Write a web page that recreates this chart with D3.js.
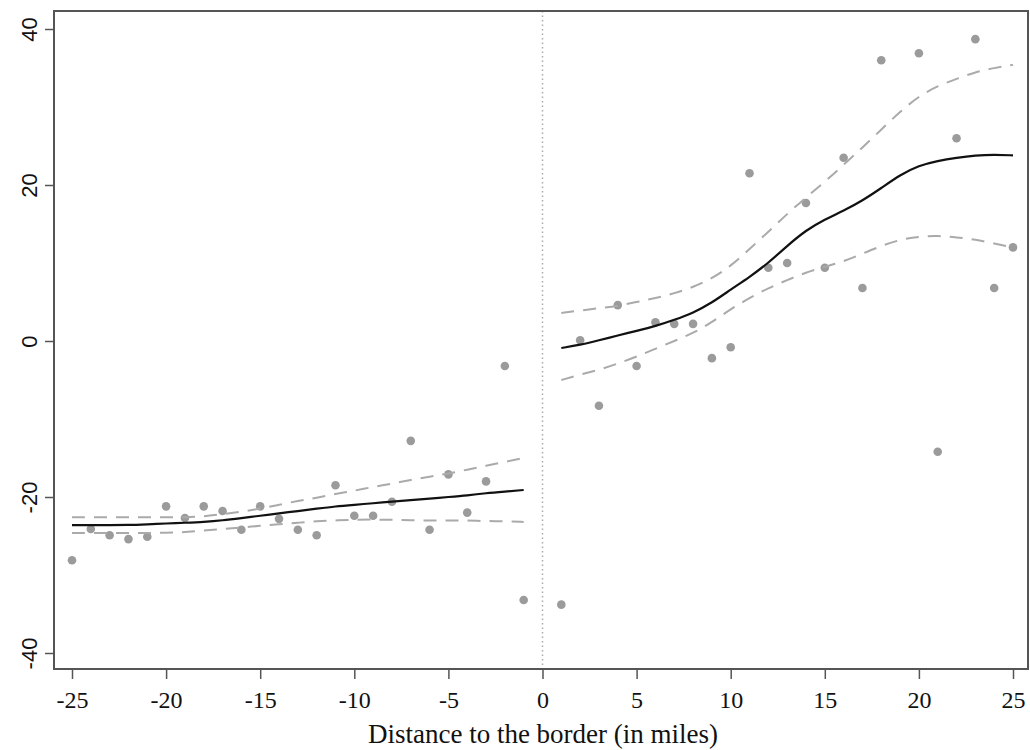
<!DOCTYPE html>
<html>
<head>
<meta charset="utf-8">
<script src="https://cdn.jsdelivr.net/npm/d3@7"></script>
<style>
  body { margin: 0; background: #fff; }
</style>
</head>
<body>
<div id="chart"><svg></svg></div>
<script>
// distance to the border (miles), left and right of the cutoff
const leftX = [-25,-24,-23,-22,-21,-20,-19,-18,-17,-16,-15,-14,-13,-12,-11,-10,-9,-8,-7,-6,-5,-4,-3,-2,-1];
const leftPts = [-28.1,-24.1,-24.9,-25.4,-25.1,-21.2,-22.7,-21.2,-21.8,-24.2,-21.2,-22.8,-24.2,-24.9,-18.5,-22.4,-22.4,-20.6,-12.8,-24.2,-17.1,-22.0,-18.0,-3.2,-33.2];
const leftFit = [-23.6,-23.6,-23.6,-23.6,-23.5,-23.4,-23.3,-23.2,-23.0,-22.7,-22.4,-22.1,-21.8,-21.5,-21.2,-21.0,-20.8,-20.6,-20.4,-20.2,-20.0,-19.8,-19.5,-19.3,-19.1];
const leftHi = [-22.6,-22.6,-22.6,-22.6,-22.6,-22.6,-22.6,-22.5,-22.2,-21.9,-21.5,-21.0,-20.5,-20.1,-19.6,-19.2,-18.7,-18.3,-17.8,-17.4,-17.0,-16.5,-16.0,-15.5,-15.0];
const leftLo = [-24.6,-24.6,-24.6,-24.6,-24.6,-24.6,-24.5,-24.3,-24.1,-23.9,-23.7,-23.5,-23.3,-23.1,-23.0,-22.9,-22.9,-22.9,-23.0,-23.0,-23.0,-23.0,-23.1,-23.1,-23.2];

const rightX = [1,2,3,4,5,6,7,8,9,10,11,12,13,14,15,16,17,18,19,20,21,22,23,24,25];
const rightFit = [-0.9,-0.5,0.1,0.7,1.3,1.9,2.7,3.6,4.9,6.6,8.2,10.0,12.2,14.2,15.6,16.7,18.0,19.6,21.3,22.5,23.1,23.5,23.8,23.9,23.8];
const rightHi = [3.6,3.9,4.2,4.5,5.0,5.5,6.1,6.9,8.0,9.6,11.8,14.0,16.3,18.4,20.4,22.6,24.8,27.1,29.4,31.4,32.7,33.6,34.5,35.0,35.4];
const rightLo = [-5.0,-4.3,-3.7,-2.9,-2.0,-1.0,0.0,1.0,2.4,4.1,5.5,6.8,7.8,8.8,9.5,10.2,11.2,12.2,13.0,13.4,13.5,13.3,13.0,12.5,12.0];

// binned means on the right (no bin shown at 19)
const rightPtX = [1,2,3,4,5,6,7,8,9,10,11,12,13,14,15,16,17,18,20,21,22,23,24,25];
const rightPts = [-33.8,0.1,-8.3,4.6,-3.2,2.4,2.2,2.2,-2.2,-0.8,21.5,9.4,10.0,17.7,9.4,23.5,6.8,36.0,36.9,-14.2,26.0,38.7,6.8,12.0];

const xTicks = [-25,-20,-15,-10,-5,0,5,10,15,20,25];
const yTicks = [-40,-20,0,20,40];
const xLabel = "Distance to the border (in miles)";

const W = 1030, H = 750;
const frame = { left: 54, right: 1028, top: 11, bottom: 669 };

const xScale = d3.scaleLinear().domain([-25, 25]).range([72, 1013]);
const yScale = d3.scaleLinear().domain([-40, 40]).range([653, 29]);

const svg = d3.select("#chart svg")
  .attr("width", W)
  .attr("height", H);

// vertical dotted line at the border
svg.append("line")
  .attr("x1", xScale(0)).attr("x2", xScale(0))
  .attr("y1", frame.top).attr("y2", frame.bottom)
  .attr("stroke", "#aaa")
  .attr("stroke-width", 1.5)
  .attr("stroke-dasharray", "1.5,3");

const line = d3.line()
  .x(d => xScale(d[0]))
  .y(d => yScale(d[1]))
  .curve(d3.curveBasis);

function drawSide(xs, fit, hi, lo, px, py) {
  svg.selectAll(null)
    .data(px.map((d, i) => [d, py[i]]))
    .enter()
    .append("circle")
    .attr("cx", d => xScale(d[0]))
    .attr("cy", d => yScale(d[1]))
    .attr("r", 4.3)
    .attr("fill", "#9b9b9b");

  [hi, lo].forEach(arr => {
    svg.append("path")
      .attr("d", line(xs.map((d, i) => [d, arr[i]])))
      .attr("fill", "none")
      .attr("stroke", "#aaa")
      .attr("stroke-width", 2)
      .attr("stroke-dasharray", "13,9");
  });

  svg.append("path")
    .attr("d", line(xs.map((d, i) => [d, fit[i]])))
    .attr("fill", "none")
    .attr("stroke", "#111")
    .attr("stroke-width", 2.2);
}

drawSide(leftX, leftFit, leftHi, leftLo, leftX, leftPts);
drawSide(rightX, rightFit, rightHi, rightLo, rightPtX, rightPts);

// frame
svg.append("rect")
  .attr("x", frame.left)
  .attr("y", frame.top)
  .attr("width", frame.right - frame.left)
  .attr("height", frame.bottom - frame.top)
  .attr("fill", "none")
  .attr("stroke", "#555")
  .attr("stroke-width", 2);

const minus = d => d < 0 ? "-" + Math.abs(d) : String(d);

// x axis
const xAxis = d3.axisBottom(xScale).tickValues(xTicks).tickSize(10).tickPadding(6).tickFormat(minus);
const gx = svg.append("g").attr("transform", `translate(0,${frame.bottom})`).call(xAxis);
gx.select(".domain").remove();
gx.selectAll(".tick line").attr("stroke", "#555").attr("stroke-width", 1.5);
gx.selectAll(".tick text")
  .attr("font-family", "'Liberation Serif', 'Times New Roman', serif")
  .attr("font-size", "24px")
  .attr("fill", "#111")
  .attr("y", 39).attr("dy", 0);

// y axis
const yAxis = d3.axisLeft(yScale).tickValues(yTicks).tickSize(9).tickFormat(minus);
const gy = svg.append("g").attr("transform", `translate(${frame.left},0)`).call(yAxis);
gy.select(".domain").remove();
gy.selectAll(".tick line").attr("stroke", "#555").attr("stroke-width", 1.5);
gy.selectAll(".tick text")
  .attr("font-family", "'Liberation Sans', Arial, sans-serif")
  .attr("font-size", "22px")
  .attr("fill", "#111")
  .attr("text-anchor", "middle")
  .attr("x", 0).attr("dy", 0)
  .attr("transform", "translate(-17,0) rotate(-90)");

svg.append("text")
  .attr("x", (frame.left + frame.right) / 2 + 2)
  .attr("y", 743)
  .attr("text-anchor", "middle")
  .attr("font-family", "'Liberation Serif', 'Times New Roman', serif")
  .attr("font-size", "27px")
  .attr("fill", "#111")
  .text(xLabel);
</script>
</body>
</html>
